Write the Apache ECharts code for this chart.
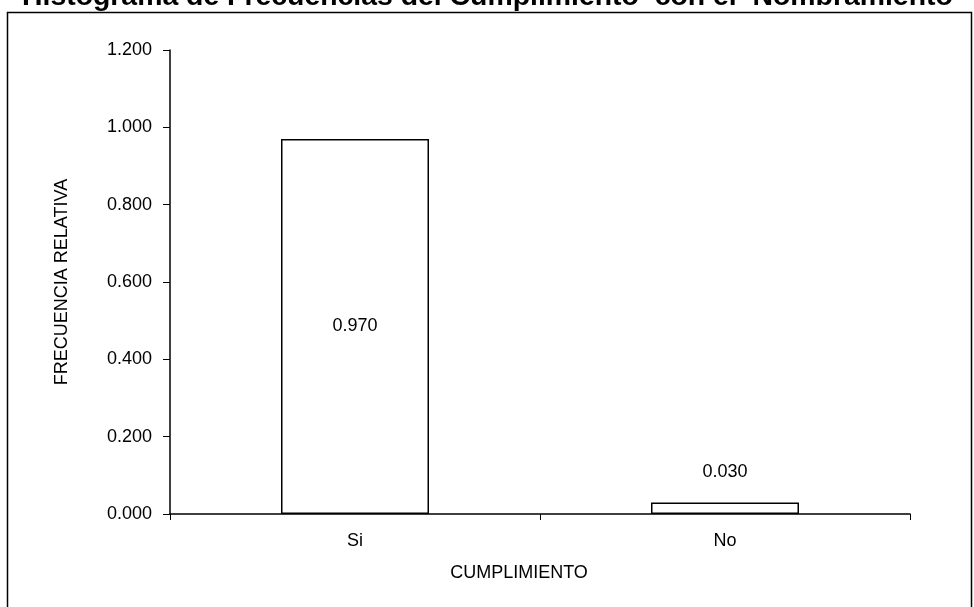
<!DOCTYPE html>
<html><head><meta charset="utf-8">
<script src="https://cdn.jsdelivr.net/npm/echarts@6/dist/echarts.min.js"></script>
<style>html,body{margin:0;padding:0;background:#fff}#c{width:974px;height:607px}</style>
</head><body><div id="c"></div>
<script>
const categories = ['Si', 'No'];
const values = [0.970, 0.030];
const yTicks = { min: 0, max: 1.2, interval: 0.2 };

const chart = echarts.init(document.getElementById('c'), null, { renderer: 'canvas' });
const font = '"Liberation Sans", Arial, sans-serif';
chart.setOption({
  animation: false,
  backgroundColor: '#fff',
  title: {
    text: 'Histograma de Frecuencias del Cumplimiento  con el  Nombramiento',
    left: 17, top: -22,
    textStyle: { fontFamily: font, fontWeight: 'bold', fontSize: 28.4, color: '#000' }
  },
  graphic: [{
    type: 'rect', shape: { x: 7.5, y: 12.5, width: 964, height: 610 },
    style: { fill: 'none', stroke: '#000', lineWidth: 1.5 }, silent: true, z: -1
  }],
  grid: { left: 170, right: 64, top: 50, bottom: 93 },
  xAxis: {
    type: 'category', data: categories,
    name: 'CUMPLIMIENTO', nameLocation: 'middle', nameGap: 50,
    nameTextStyle: { fontFamily: font, fontSize: 18, color: '#000', padding: [0, 42, 0, 0] },
    axisLine: { lineStyle: { color: '#000', width: 1.5 } },
    axisTick: { show: true, length: 6, alignWithLabel: false, lineStyle: { color: '#000' } },
    axisLabel: { fontFamily: font, fontSize: 18, color: '#000', margin: 18 }
  },
  yAxis: {
    type: 'value', min: yTicks.min, max: yTicks.max, interval: yTicks.interval,
    name: 'FRECUENCIA RELATIVA', nameLocation: 'middle', nameGap: 99,
    nameTextStyle: { fontFamily: font, fontSize: 18, color: '#000' },
    axisLine: { show: true, lineStyle: { color: '#000', width: 1.5 } },
    axisTick: { show: true, length: 7, lineStyle: { color: '#000' } },
    splitLine: { show: false },
    axisLabel: { fontFamily: font, fontSize: 18, color: '#000', margin: 18, formatter: v => v.toFixed(3) }
  },
  series: [{
    type: 'bar',
    data: values.map(v => ({ value: v, label: v < 0.1 ? { position: 'top', distance: 21 } : { position: 'inside' } })),
    barWidth: '40%',
    itemStyle: { color: '#fff', borderColor: '#000', borderWidth: 1.5 },
    label: {
      show: true, fontFamily: font, fontSize: 18, color: '#000',
      formatter: p => p.value.toFixed(3)
    }
  }]
});
</script></body></html>
